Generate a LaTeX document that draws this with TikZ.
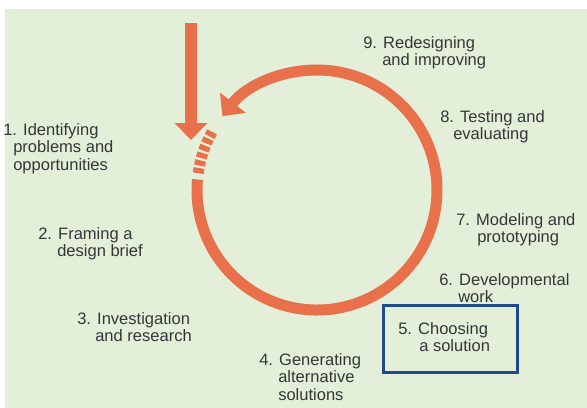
\documentclass[tikz,border=0pt]{standalone}
\usepackage{fontspec}
\setmainfont{Liberation Sans}
\usetikzlibrary{arrows.meta}
\definecolor{loop}{HTML}{E8704B}
\definecolor{paper}{HTML}{E3EFD9}
\definecolor{frame}{HTML}{1F4A8C}
\definecolor{ink}{HTML}{363636}
\tikzstyle{every node}=[inner sep=0pt,anchor=north west,align=left,text=ink,
  font=\fontsize{12.4}{13.1}\selectfont]
\tikzstyle{ring}=[draw=loop,line width=8.25pt]
\tikzstyle{rungs}=[ring,dash pattern=on 3.9pt off 1.9pt]
\tikzstyle{head}=[-{Triangle[width=24pt,length=12.75pt]}]
\tikzstyle{choice}=[draw=frame,line width=2.25pt]

\begin{document}
\begin{tikzpicture}[x=0.75pt,y=-0.75pt]
  \useasboundingbox (0,0) rectangle (587,408);
  \fill[white] (0,0) rectangle (587,408);
  \fill[paper] (5,9) rectangle (587,408);

  % way in
  \coordinate (feed) at (191,23);
  \coordinate (entry) at (191,140);
  \draw[draw=loop,line width=9pt,head] (feed) -- (entry);

  % the loop itself
  \coordinate (c) at (317,190);
  \draw[rungs] (c) ++(151:90pt) arc[start angle=151,end angle=172,radius=90pt];
  \draw[ring,head] (c) ++(175:90pt) arc[start angle=175,end angle=502,radius=90pt];

  % stages
  \node (s1) at (3,123) {1. Identifying\\\hspace*{7.5pt}problems and\\\hspace*{7.5pt}opportunities};
  \node (s2) at (38,227) {2. Framing a\\\hspace*{14.25pt}design brief};
  \node (s3) at (77,312) {3. Investigation\\\hspace*{13.5pt}and research};
  \node (s4) at (259,353) {4. Generating\\\hspace*{14.25pt}alternative\\\hspace*{14.25pt}solutions};
  \node (s5) at (398,322) {5. Choosing\\\hspace*{15.75pt}a solution};
  \node (s6) at (439,273) {6. Developmental\\\hspace*{14.25pt}work};
  \node (s7) at (456,213) {7. Modeling and\\\hspace*{15.75pt}prototyping};
  \node (s8) at (440,110) {8. Testing and\\\hspace*{9.75pt}evaluating};
  \node (s9) at (363,36) {9. Redesigning\\\hspace*{14.25pt}and improving};

  \draw[choice] (383,305) rectangle (517,372);
\end{tikzpicture}
\end{document}
